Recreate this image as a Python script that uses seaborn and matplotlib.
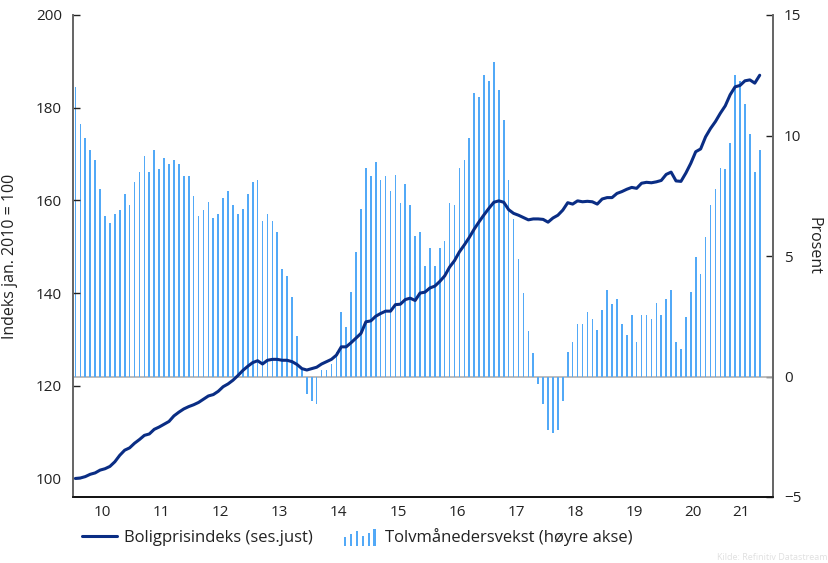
import matplotlib
matplotlib.use("Agg")
import matplotlib.pyplot as plt
import seaborn as sns
import pandas as pd
import numpy as np
from matplotlib.legend_handler import HandlerBase
from matplotlib.patches import Rectangle
from matplotlib.lines import Line2D

# House price index, seasonally adjusted (Jan 2010 = 100), monthly from Jan 2010
index_values = [
    100.0, 100.1, 100.4, 100.9, 101.2, 101.8, 102.1, 102.6, 103.6, 105.0, 106.1, 106.6,
    107.6, 108.4, 109.3, 109.6, 110.6, 111.1, 111.7, 112.3, 113.5, 114.3, 115.0, 115.5,
    115.9, 116.4, 117.1, 117.8, 118.1, 118.8, 119.8, 120.4, 121.2, 122.2, 123.3, 124.2,
    125.0, 125.4, 124.7, 125.5, 125.7, 125.7, 125.5, 125.5, 125.2, 124.6, 123.7, 123.4,
    123.7, 124.0, 124.7, 125.2, 125.7, 126.6, 128.4, 128.4, 129.3, 130.3, 131.3, 133.8,
    134.0, 135.0, 135.6, 136.1, 136.1, 137.5, 137.6, 138.6, 138.9, 138.4, 140.0, 140.2,
    141.1, 141.5, 142.5, 143.7, 145.6, 147.0, 148.9, 150.4, 152.0, 153.8, 155.4, 156.9,
    158.3, 159.6, 159.9, 159.6, 158.0, 157.2, 156.8, 156.3, 155.8, 156.0, 156.0, 155.9,
    155.3, 156.2, 156.8, 157.9, 159.5, 159.2, 159.9, 159.7, 159.8, 159.7, 159.2, 160.3,
    160.6, 160.6, 161.5, 161.9, 162.4, 162.8, 162.6, 163.7, 163.9, 163.8, 164.0, 164.3,
    165.6, 166.1, 164.2, 164.1, 165.9, 168.0, 170.5, 171.1, 173.7, 175.5, 177.0, 178.8,
    180.4, 182.8, 184.5, 184.8, 185.8, 186.0, 185.3, 187.0,
]

# Twelve-month growth, percent (right axis)
growth_values = [
    12.0, 10.46, 9.88, 9.38, 9.0, 7.8, 6.68, 6.39, 6.76, 6.89, 7.59, 7.10,
    8.09, 8.5, 9.17, 8.5, 9.38, 8.59, 9.05, 8.8, 9.0, 8.8, 8.3, 8.3,
    7.47, 6.68, 6.89, 7.26, 6.56, 6.76, 7.39, 7.68, 7.10, 6.76, 6.97, 7.59,
    8.09, 8.17, 6.47, 6.76, 6.47, 5.98, 4.48, 4.19, 3.28, 1.66, 0.25, -0.72,
    -1.0, -1.13, 0.28, 0.28, 0.5, 1.0, 2.66, 2.07, 3.49, 5.15, 6.97, 8.67,
    8.3, 8.88, 8.17, 8.3, 7.68, 8.38, 7.18, 7.97, 7.10, 5.85, 5.98, 4.6,
    5.35, 4.6, 5.35, 5.64, 7.18, 7.10, 8.67, 9.0, 9.88, 11.78, 11.58, 12.49,
    12.28, 13.07, 11.87, 10.66, 8.17, 6.54, 4.88, 3.47, 1.87, 0.98, -0.30, -1.13,
    -2.21, -2.35, -2.21, -1.02, 1.0, 1.45, 2.16, 2.16, 2.66, 2.37, 1.95, 2.78,
    3.57, 2.99, 3.2, 2.16, 1.74, 2.57, 1.45, 2.57, 2.57, 2.37, 3.07, 2.57,
    3.2, 3.57, 1.45, 1.16, 2.45, 3.49, 4.94, 4.27, 5.77, 7.10, 7.8, 8.67,
    8.59, 9.67, 12.49, 12.28, 11.29, 10.08, 8.5, 9.38,
]

years = list(range(2010, 2022))
year_labels = ["10", "11", "12", "13", "14", "15", "16", "17", "18", "19", "20", "21"]

LINE_COLOR = "#0a2d84"
BAR_COLOR = "#52a9f7"

dates = pd.date_range("2010-01-01", periods=len(index_values), freq="MS")
df = pd.DataFrame({
    "t": dates.year + (dates.month - 0.5) / 12,
    "index": index_values,
    "growth": growth_values,
})


class BarsHandler(HandlerBase):
    """Legend key drawn as a little row of bars."""
    def create_artists(self, legend, orig_handle, xdescent, ydescent,
                       width, height, fontsize, trans):
        heights = [0.6, 0.8, 1.0, 0.7, 0.9, 1.15]
        n = len(heights)
        bw = width * 0.06
        out = []
        for k, h in enumerate(heights):
            x0 = -xdescent + width * (k + 0.5) / n - bw / 2
            y0 = -ydescent - height * 0.35
            out.append(Rectangle((x0, y0), bw, height * h * 1.25,
                                 facecolor=BAR_COLOR, edgecolor="none", transform=trans))
        return out


sns.set_theme(style="white")
plt.rcParams["font.family"] = ["Open Sans", "DejaVu Sans"]
plt.rcParams["font.size"] = 11

fig = plt.figure(figsize=(8.29, 5.63), dpi=100)
ax = fig.add_axes([73 / 829, 66 / 563, 700 / 829, 482 / 563])
ax2 = ax.twinx()

# bars on the right axis, behind the index line
ax2.axhline(0, color="#b0b0b0", lw=1.2, zorder=1)
ax2.bar(df["t"], df["growth"], width=0.028, color=BAR_COLOR, linewidth=0, zorder=2)
ax2.set_ylim(-5, 15)
ax2.set_yticks([-5, 0, 5, 10, 15])
ax2.set_ylabel("Prosent", rotation=270, fontsize=11.5, color="#222222")
ax2.yaxis.set_label_coords(1.07, 0.52)

sns.lineplot(data=df, x="t", y="index", ax=ax, color=LINE_COLOR, linewidth=2.2, zorder=3)
ax.set_zorder(ax2.get_zorder() + 1)
ax.patch.set_visible(False)

ax.set_xlim(2010, 2021.85)
ax.set_ylim(96, 200)
ax.set_yticks([100, 120, 140, 160, 180, 200])
ax.set_ylabel("Indeks jan. 2010 = 100", fontsize=11.5, color="#222222")
ax.yaxis.set_label_coords(-0.079, 0.5)
ax.set_xlabel("")

# year boundaries as ticks, labels mid-year
ax.set_xticks(years)
ax.set_xticklabels([])
label_pos = [y + 0.5 for y in years[:-1]] + [2021.3]
ax.set_xticks(label_pos, minor=True)
ax.set_xticklabels(year_labels, minor=True)

ax.tick_params(axis="x", which="major", direction="in", length=5, width=1, color="#222222")
ax.tick_params(axis="x", which="minor", length=0, pad=6, labelsize=11, labelcolor="#222222")
ax.tick_params(axis="y", direction="in", length=5, width=1, pad=8, labelsize=11,
               labelcolor="#222222", color="#222222", left=True)
ax2.tick_params(axis="y", direction="in", length=5, width=1, pad=8, labelsize=11,
                labelcolor="#222222", color="#222222", right=True)

for a in (ax, ax2):
    a.spines["top"].set_visible(False)
    a.spines["left"].set_color("#666666")
    a.spines["right"].set_color("#666666")
    a.spines["bottom"].set_color("#111111")
    a.grid(False)

handles = [Line2D([], [], color=LINE_COLOR, lw=2.2), Rectangle((0, 0), 1, 1)]
fig.legend(handles, ["Boligprisindeks (ses.just)", "Tolvmånedersvekst (høyre akse)"],
           handler_map={Rectangle: BarsHandler()},
           loc="center left", bbox_to_anchor=(67 / 829, 1 - 537 / 563),
           ncol=2, frameon=False, fontsize=12, handlelength=2.1,
           handletextpad=0.45, columnspacing=1.75, labelcolor="#222222")

fig.text(0.998, 1 - 557 / 563, "Kilde: Refinitiv Datastream", ha="right", va="center",
         fontsize=6.5, color="#e0e0e0")

fig.savefig("out.png", dpi=100)
